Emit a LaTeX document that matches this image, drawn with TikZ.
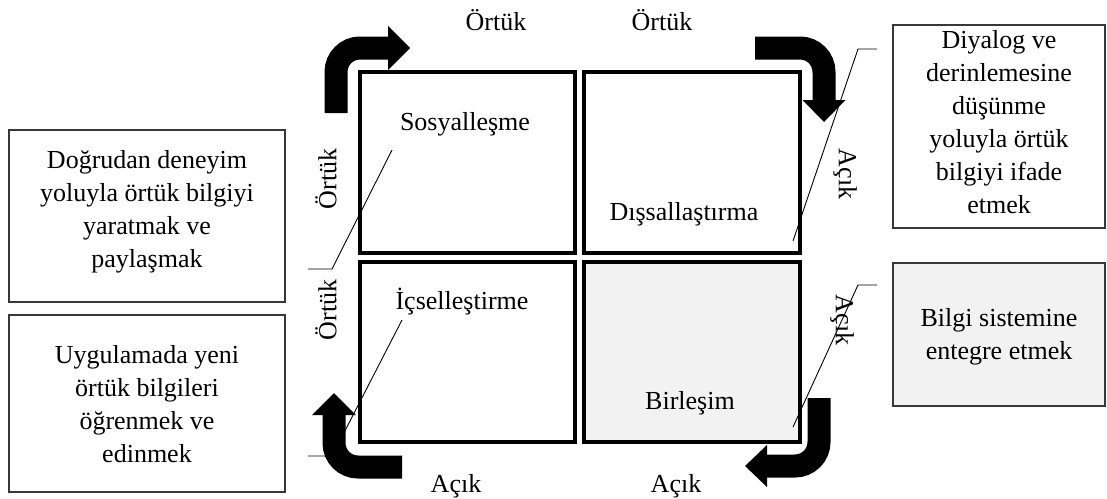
\documentclass[tikz,border=0pt]{standalone}
\usepackage{fontspec}
\setmainfont{Liberation Serif}
\begin{document}
\begin{tikzpicture}[x=1pt,y=-1pt,
  txt/.style={font=\fontsize{26}{33}\selectfont, inner sep=0pt, align=center},
  quad/.style={draw=black, line width=4pt},
  sidebox/.style={draw=black!78, line width=1.3pt},
  callout/.style={draw=black, line width=0.9pt},
  bentshaft/.style={draw=black, line width=23pt, rounded corners=24pt},
  arrowhead/.style={fill=black}
]
\useasboundingbox (0,0) rectangle (1107,498);

% four quadrants
\draw[quad] (360,72) rectangle (575,253);
\draw[quad] (584,72) rectangle (800,253);
\draw[quad] (360,262) rectangle (575,442);
\draw[quad, fill=black!5] (584,262) rectangle (800,442);

% quadrant titles
\node[txt] (sos) at (465,124) {Sosyalleşme};
\node[txt] (dis) at (684,214) {Dışsallaştırma};
\node[txt] (ics) at (462,302) {İçselleştirme};
\node[txt] (bir) at (690,403) {Birleşim};

% side explanation boxes
\draw[sidebox] (9,130) rectangle (285,302);
\node[txt] (tl) at (147,212) {Doğrudan deneyim\\yoluyla örtük bilgiyi\\yaratmak ve\\paylaşmak};
\draw[sidebox] (9,315) rectangle (285,492);
\node[txt] (bl) at (147,404) {Uygulamada yeni\\örtük bilgileri\\öğrenmek ve\\edinmek};
\draw[sidebox] (893,25) rectangle (1105,228);
\node[txt] (tr) at (999,122) {Diyalog ve\\derinlemesine\\düşünme\\yoluyla örtük\\bilgiyi ifade\\etmek};
\draw[sidebox, fill=black!5] (893,263) rectangle (1105,406);
\node[txt] (br) at (999,337) {Bilgi sistemine\\entegre etmek};

% axis labels
\node[txt] (ot1) at (496,20) {Örtük};
\node[txt] (ot2) at (662,20) {Örtük};
\node[txt] (ac1) at (456,486) {Açık};
\node[txt] (ac2) at (676,486) {Açık};
\node[txt, rotate=90] (ot3) at (326,179) {Örtük};
\node[txt, rotate=90] (ot4) at (326,310) {Örtük};
\node[txt, rotate=-90] (ac3) at (845,174) {Açık};
\node[txt, rotate=-90] (ac4) at (842,320) {Açık};

% callout leaders
\coordinate (c1a) at (392,150); \coordinate (c1b) at (332,269); \coordinate (c1c) at (308,269);
\coordinate (c2a) at (793,241); \coordinate (c2b) at (858,49);  \coordinate (c2c) at (877,49);
\coordinate (c3a) at (402,320); \coordinate (c3b) at (332,456); \coordinate (c3c) at (308,456);
\coordinate (c4a) at (793,427); \coordinate (c4b) at (858,285); \coordinate (c4c) at (877,285);
\draw[callout] (c1a) -- (c1b) -- (c1c);
\draw[callout] (c2a) -- (c2b) -- (c2c);
\draw[callout] (c3a) -- (c3b) -- (c3c);
\draw[callout] (c4a) -- (c4b) -- (c4c);

% bent block arrows
\coordinate (a1s) at (336,113); \coordinate (a1e) at (389,48);
\draw[bentshaft] (a1s) |- (a1e);
\fill[arrowhead] (388,26) -- (410,48) -- (388,70) -- cycle;

\coordinate (a2s) at (755,48); \coordinate (a2e) at (824,101);
\draw[bentshaft] (a2s) -| (a2e);
\fill[arrowhead] (802.5,100) -- (845.5,100) -- (824,122) -- cycle;

\coordinate (a3s) at (819,398); \coordinate (a3e) at (766,466);
\draw[bentshaft] (a3s) |- (a3e);
\fill[arrowhead] (767,445) -- (767,487) -- (745,466) -- cycle;

\coordinate (a4s) at (402,467); \coordinate (a4e) at (334,414);
\draw[bentshaft] (a4s) -| (a4e);
\fill[arrowhead] (312,415) -- (356,415) -- (334,393) -- cycle;
\end{tikzpicture}
\end{document}
